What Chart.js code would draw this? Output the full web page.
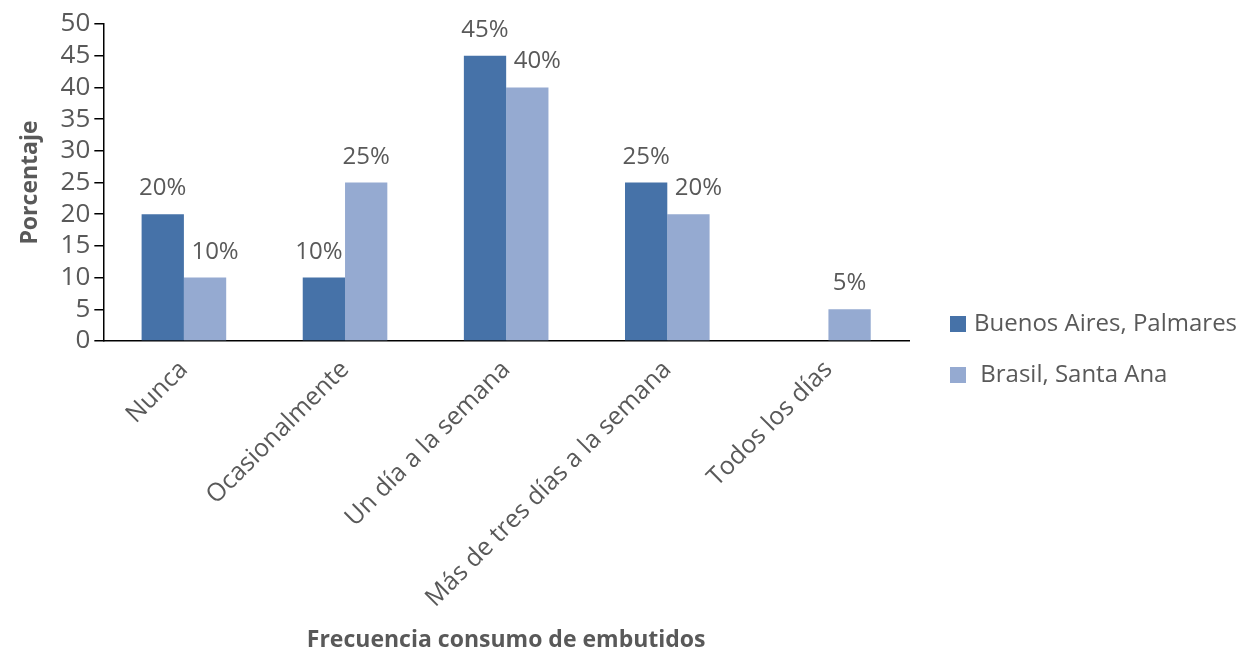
<!DOCTYPE html>
<html>
<head>
<meta charset="utf-8">
<script src="https://cdn.jsdelivr.net/npm/chart.js@4.4.1/dist/chart.umd.min.js"></script>
<style>
  html, body { margin: 0; padding: 0; background: #fff; }
  #wrap { width: 1257px; height: 662px; }
</style>
</head>
<body>
<div id="wrap"><canvas id="chart" width="1257" height="662"></canvas></div>
<script>
const categories = ['Nunca', 'Ocasionalmente', 'Un día a la semana', 'Más de tres días a la semana', 'Todos los días'];
const seriesNames = ['Buenos Aires, Palmares', ' Brasil, Santa Ana'];
const buenosAires = [20, 10, 45, 25, 0];
const brasil = [10, 25, 40, 20, 5];
const yTicks = [0, 5, 10, 15, 20, 25, 30, 35, 40, 45, 50];

const FONT = '"Open Sans", "Liberation Sans", sans-serif';
const GREY = '#595959';

// percent labels above each bar (skip zeros); nudge sideways when the pair is close in height
const barLabels = {
    id: 'barLabels',
    afterDatasetsDraw(chart) {
        const ctx = chart.ctx;
        const sets = chart.data.datasets;
        ctx.save();
        ctx.font = '24px ' + FONT;
        ctx.fillStyle = GREY;
        ctx.textAlign = 'center';
        ctx.textBaseline = 'alphabetic';
        sets.forEach((ds, i) => {
            chart.getDatasetMeta(i).data.forEach((bar, j) => {
                const v = ds.data[j];
                if (!v) return;
                const other = sets[1 - i].data[j];
                let dx = 0;
                if (i === 1 && other > v && other - v <= 10) dx = 10;
                if (i === 0 && other > v) dx = -5;
                ctx.fillText(v + '%', bar.x + dx, bar.y - 19);
            });
        });
        ctx.restore();
    }
};

// legend drawn to the right of the plot
const sideLegend = {
    id: 'sideLegend',
    afterDraw(chart) {
        const ctx = chart.ctx;
        const a = chart.chartArea;
        ctx.save();
        ctx.font = '24px ' + FONT;
        ctx.textBaseline = 'middle';
        chart.data.datasets.forEach((ds, i) => {
            const y = a.bottom - 17 + i * 51;
            const x = a.right + 41;
            ctx.fillStyle = ds.backgroundColor;
            ctx.fillRect(x, y - 8, 16, 16);
            ctx.fillStyle = GREY;
            ctx.fillText(ds.label, x + 24, y);
        });
        ctx.restore();
    }
};

new Chart(document.getElementById('chart'), {
    type: 'bar',
    data: {
        labels: categories,
        datasets: [
            { label: seriesNames[0], data: buenosAires, backgroundColor: '#4672A8' },
            { label: seriesNames[1], data: brasil, backgroundColor: '#95AAD1' }
        ]
    },
    options: {
        responsive: false,
        animation: false,
        datasets: { bar: { barPercentage: 1, categoryPercentage: 0.525 } },
        layout: { padding: { top: 24, right: 348, left: 13, bottom: 4 } },
        plugins: {
            legend: { display: false },
            tooltip: { enabled: false }
        },
        scales: {
            x: {
                grid: { display: false },
                border: { display: true, color: '#000', width: 1.5 },
                ticks: {
                    color: GREY,
                    font: { family: FONT, size: 25 },
                    maxRotation: 45,
                    minRotation: 45,
                    autoSkip: false,
                    padding: 6
                },
                title: {
                    display: true,
                    text: 'Frecuencia consumo de embutidos',
                    color: GREY,
                    font: { family: FONT, size: 23, weight: 'bold' },
                    padding: { top: 10 }
                }
            },
            y: {
                min: 0,
                max: 50,
                afterBuildTicks(axis) { axis.ticks = yTicks.map(v => ({ value: v })); },
                grid: { drawOnChartArea: false, drawTicks: true, tickLength: 9, color: '#000', lineWidth: 1.5 },
                border: { display: true, color: '#000', width: 1.5 },
                ticks: {
                    color: GREY,
                    font: { family: FONT, size: 26 },
                    autoSkip: false,
                    padding: 4
                },
                title: {
                    display: true,
                    text: 'Porcentaje',
                    color: GREY,
                    font: { family: FONT, size: 23, weight: 'bold' },
                    padding: { bottom: 12 }
                }
            }
        }
    },
    plugins: [barLabels, sideLegend]
});
</script>
</body>
</html>
